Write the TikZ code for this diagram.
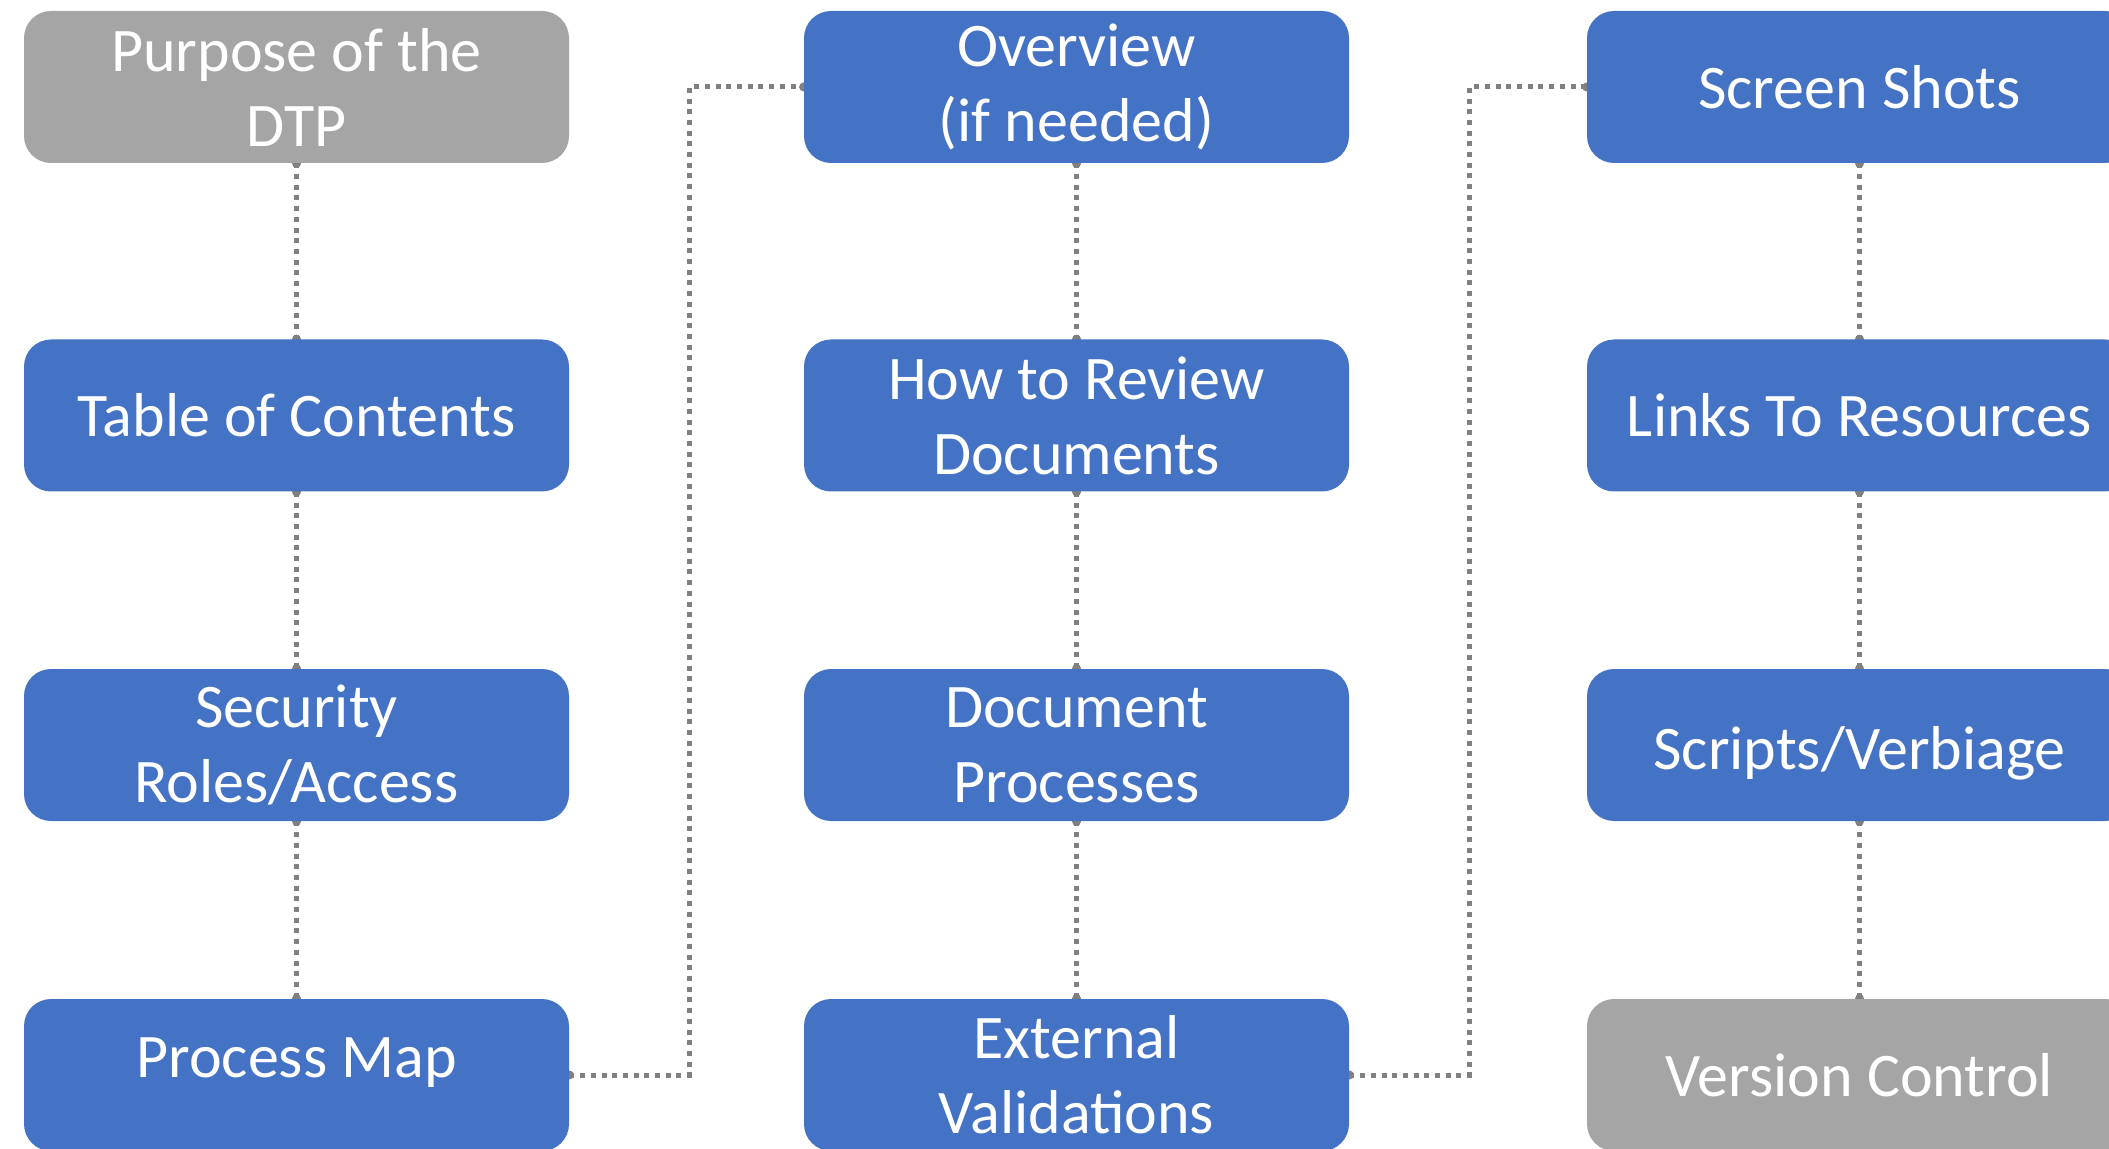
\documentclass[tikz,border=0pt]{standalone}
\usepackage{fontspec}
\setmainfont{Carlito}
\usetikzlibrary{backgrounds}
\definecolor{boxblue}{HTML}{4472C4}
\definecolor{boxgray}{HTML}{A5A5A5}
\definecolor{conngray}{HTML}{808080}
\begin{document}
\begin{tikzpicture}[x=0.5pt,y=-0.5pt,
  box/.style={draw=none,rounded corners=13.5pt,minimum width=272.5pt,minimum height=76pt,
    inner sep=0pt,align=center,text=white,font=\fontsize{31pt}{37.5pt}\selectfont},
  bluebox/.style={box,fill=boxblue},
  graybox/.style={box,fill=boxgray},
  conn/.style={draw=conngray,line width=2.5pt,dash pattern=on 2.5pt off 2.85pt},
  enddot/.style={fill=conngray}]
\useasboundingbox (0,0) rectangle (2109,1149);
\clip (0,0) rectangle (2109,1149);
% column 1
\node[graybox] (p1) at (296.5,87) {Purpose of the\\DTP};
\node[bluebox] (p2) at (296.5,415.5) {Table of Contents};
\node[bluebox] (p3) at (296.5,745) {Security\\Roles/Access};
\node[bluebox] (p4) at (296.5,1075) {\raisebox{6pt}[\height][\depth]{Process Map}};
% column 2
\node[bluebox] (o1) at (1076.5,87) {Overview\\(if needed)};
\node[bluebox] (o2) at (1076.5,415.5) {How to Review\\Documents};
\node[bluebox] (o3) at (1076.5,745) {Document\\Processes};
\node[bluebox] (o4) at (1076.5,1075) {External\\Validations};
% column 3
\node[bluebox] (s1) at (1859.5,87) {Screen Shots};
\node[bluebox] (s2) at (1859.5,415.5) {Links To Resources};
\node[bluebox] (s3) at (1859.5,745) {\raisebox{-4pt}[\height][\depth]{Scripts/Verbiage}};
\node[graybox] (s4) at (1859.5,1075) {Version Control};
\begin{pgfonlayer}{background}
  \foreach \a/\b in {p1/p2,p2/p3,p3/p4,o1/o2,o2/o3,o3/o4,s1/s2,s2/s3,s3/s4}{
    \draw[conn] (\a.south) -- (\b.north);
    \fill[enddot] (\a.south) circle (4.5);
    \fill[enddot] (\b.north) circle (4.5);
  }
  \draw[conn] (p4.east) -- ++(120,0) |- (o1.west);
  \fill[enddot] (p4.east) circle (4.5);
  \fill[enddot] (o1.west) circle (4.5);
  \draw[conn] (o4.east) -- ++(120,0) |- (s1.west);
  \fill[enddot] (o4.east) circle (4.5);
  \fill[enddot] (s1.west) circle (4.5);
\end{pgfonlayer}
\end{tikzpicture}
\end{document}
